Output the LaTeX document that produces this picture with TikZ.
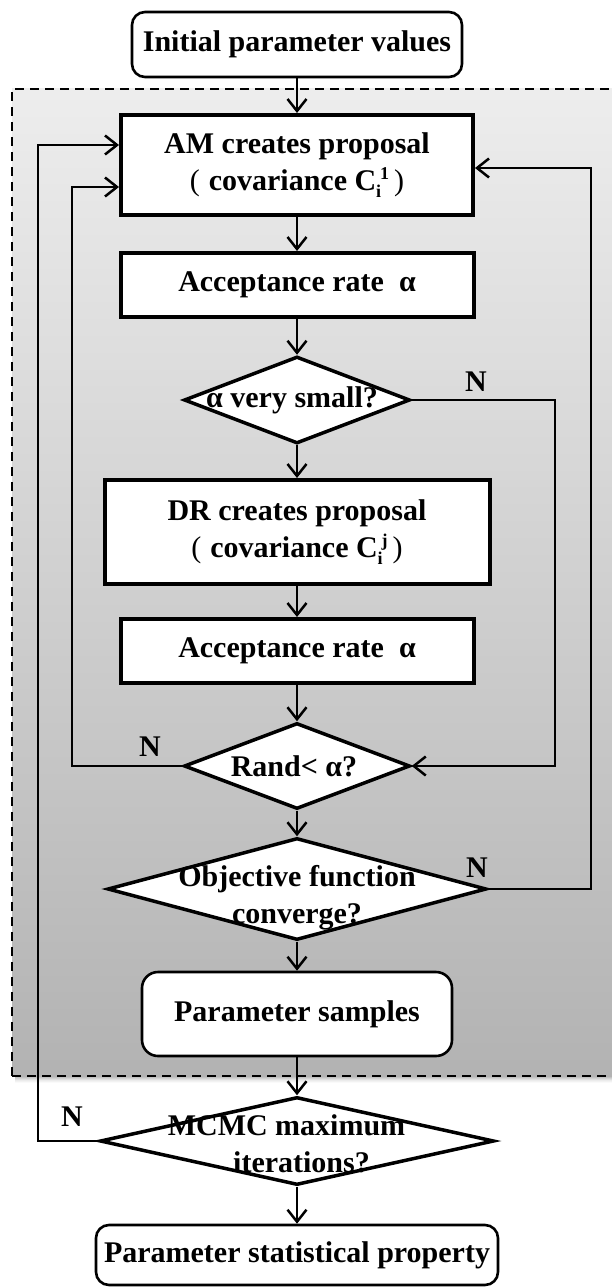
\documentclass[tikz,border=0pt]{standalone}
\usepackage{fontspec}
\setmainfont{Liberation Serif}
\usetikzlibrary{arrows.meta,shapes.geometric}
\newcommand{\CovC}[1]{C\raisebox{-7pt}{\fontsize{18}{18}\selectfont i}\hspace{-1pt}\raisebox{11pt}{\fontsize{18}{18}\selectfont #1}}
\newcommand{\Lpar}{{\mdseries(}\hspace{9pt}}
\newcommand{\Rpar}{\hspace{5pt}{\mdseries)}}
\begin{document}
\begin{tikzpicture}[x=1pt,y=-1pt,
  font=\fontsize{30}{37}\selectfont\bfseries,
  sqbox/.style={draw, line width=4pt, fill=white, inner sep=0pt, align=center},
  rbox/.style={draw, line width=2.6pt, rounded corners=13pt, fill=white, inner sep=0pt, align=center},
  dia/.style={draw, diamond, line width=3.5pt, fill=white, inner sep=0pt},
  dtext/.style={align=center, inner sep=0pt},
  lbl/.style={inner sep=0pt},
  conn/.style={line width=2.5pt, -{Straight Barb[length=12pt,width=19pt,line width=2.5pt]}},
  plain/.style={line width=2.5pt}]
\useasboundingbox (0,0) rectangle (611,1287);
% shaded dashed region with shadow
\foreach \i/\o in {1/0.30,2/0.24,3/0.18,4/0.13,5/0.08,6/0.05,7/0.02}
  \fill[black,opacity=\o] (15,1075+\i) rectangle (620,1076+\i);
\shade[top color=black!7, bottom color=black!30] (12,89) rectangle (620,1076);
\draw[line width=2pt, dash pattern=on 9pt off 6pt] (12,1076) -- (12,89) -- (620,89);
\draw[line width=2pt, dash pattern=on 9pt off 6pt] (12,1076) -- (620,1076);

% nodes
\node[rbox, minimum width=330pt, minimum height=65pt] (init) at (297,44.5) {Initial parameter values};
\node[sqbox, minimum width=352pt, minimum height=100pt] (am) at (297,165)
  {AM creates proposal\\\Lpar covariance \CovC{1}\Rpar};
\node[sqbox, minimum width=353pt, minimum height=64pt] (acc1) at (297,285) {Acceptance rate\ \ α};
\node[dia, minimum width=226pt, minimum height=87pt] (d1) at (297,400) {};
\node[dtext] (d1t) at (292,400) {α very small?};
\node[sqbox, minimum width=385pt, minimum height=104pt] (dr) at (297,532)
  {DR creates proposal\\\Lpar covariance \CovC{j}\Rpar};
\node[sqbox, minimum width=353pt, minimum height=64pt] (acc2) at (297,651) {Acceptance rate\ \ α};
\node[dia, minimum width=226pt, minimum height=86pt] (rand) at (297,766) {};
\node[dtext] (randt) at (294,766) {Rand< α?};
\node[dia, minimum width=379pt, minimum height=102pt] (obj) at (297,889) {};
\node[dtext] (objt) at (297,898) {Objective function\\converge?};
\node[rbox, rounded corners=16pt, minimum width=310pt, minimum height=84pt] (samp) at (297,1014) {Parameter samples};
\node[dia, minimum width=394pt, minimum height=88pt] (mcmc) at (297,1141) {};
\node[dtext] (mcmct) at (294,1144) {MCMC maximum\hspace*{15pt}\\\hspace*{15pt}iterations?};
\node[rbox, minimum width=402pt, minimum height=60pt] (final) at (297,1255) {Parameter statistical property};

% labels
\node[lbl] (n1) at (476,382) {N};
\node[lbl] (n2) at (150,747) {N};
\node[lbl] (n3) at (477,868) {N};
\node[lbl] (n4) at (72,1117) {N};

% main flow
\draw[conn] (init) -- (am);
\draw[conn] (am) -- (acc1);
\draw[conn] (acc1) -- (d1);
\draw[conn] (d1) -- (dr);
\draw[conn] (dr) -- (acc2);
\draw[conn] (acc2) -- (rand);
\draw[conn] (rand) -- (obj);
\draw[conn] (obj) -- (samp);
\draw[conn] (samp) -- (mcmc);
\draw[conn] (mcmc) -- (final);

% loops
\coordinate (r1) at (555,400);
\draw[conn] (d1.east) -- (r1) |- (rand.east);
\coordinate (l1) at (72,766);
\coordinate (l1t) at (72,187);
\draw[conn] (rand.west) -- (l1) -- (l1t) -- (am.west |- l1t);
\coordinate (r2) at (591,889);
\coordinate (r2t) at (591,168);
\draw[conn] (obj.east) -- (r2) -- (r2t) -- (am.east |- r2t);
\coordinate (l2) at (38,1141);
\coordinate (l2t) at (38,145);
\draw[conn] (mcmc.west) -- (l2) -- (l2t) -- (am.west |- l2t);
\end{tikzpicture}
\end{document}
